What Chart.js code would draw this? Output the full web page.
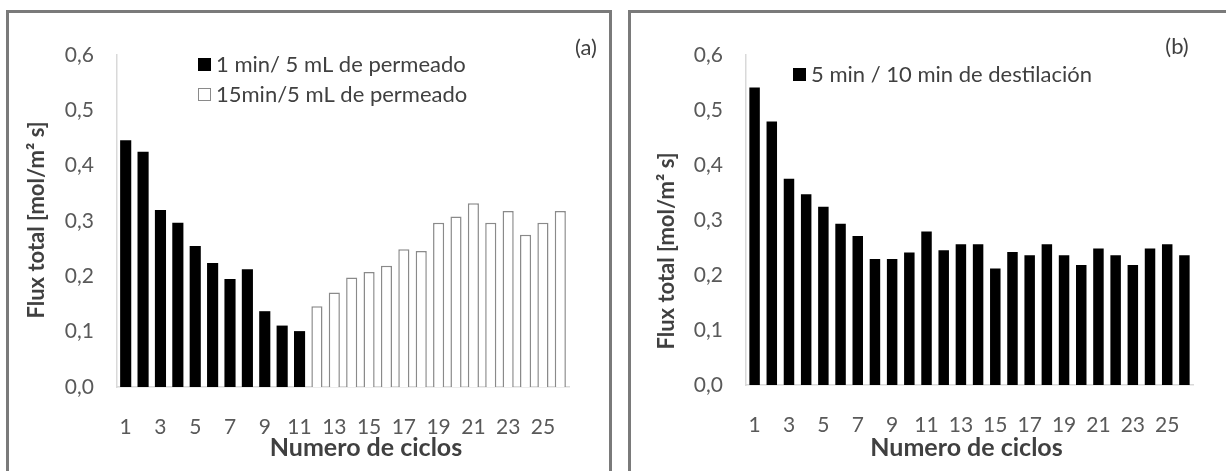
<!DOCTYPE html>
<html><head><meta charset="utf-8">
<script src="https://cdn.jsdelivr.net/npm/chart.js@4.4.0/dist/chart.umd.min.js"></script>
<style>
html,body{margin:0;padding:0;background:#fff;width:1226px;height:471px;overflow:hidden;position:relative}
.frame{position:absolute;border:3px solid #7a7a7a;box-sizing:border-box}
canvas{position:absolute}
</style></head><body>
<div class="frame" style="left:6px;top:10px;width:606px;height:500px"></div>
<div class="frame" style="left:628px;top:10px;width:620px;height:500px"></div>
<canvas id="ca" width="600" height="458" style="left:9px;top:13px;width:600px;height:458px"></canvas>
<canvas id="cb" width="595" height="458" style="left:631px;top:13px;width:595px;height:458px"></canvas>
<script>
// ---- data ----
const ciclos = ['1','2','3','4','5','6','7','8','9','10','11','12','13','14','15','16','17','18','19','20','21','22','23','24','25','26'];
const flux1min = [0.446,0.425,0.320,0.297,0.255,0.224,0.195,0.213,0.137,0.111,0.101,null,null,null,null,null,null,null,null,null,null,null,null,null,null,null];
const flux15min = [null,null,null,null,null,null,null,null,null,null,null,0.146,0.171,0.198,0.208,0.219,0.249,0.246,0.297,0.308,0.332,0.297,0.318,0.275,0.297,0.318];
const flux5min = [0.541,0.479,0.375,0.347,0.324,0.293,0.271,0.229,0.229,0.241,0.279,0.245,0.256,0.256,0.212,0.242,0.236,0.256,0.236,0.218,0.248,0.236,0.218,0.248,0.256,0.236];
const yTickLabels = ['0,0','0,1','0,2','0,3','0,4','0,5','0,6'];
const legendA = ['1 min/ 5 mL de permeado','15min/5 mL de permeado'];
const legendB = ['5 min / 10 min de destilación'];
const yTitle = 'Flux total [mol/m² s]';
const xTitle = 'Numero de ciclos';

const FONT = 'Lato, "Open Sans", sans-serif';
const TICK_COLOR = '#595959';
const TITLE_COLOR = '#404040';

const decor = {
  id: 'decor',
  afterDraw(chart, args, o) {
    const ctx = chart.ctx, ca = chart.chartArea;
    ctx.save();
    ctx.fillStyle = TITLE_COLOR;
    ctx.textAlign = 'center';
    ctx.textBaseline = 'middle';
    // x axis title
    ctx.font = 'bold 25px ' + FONT;
    ctx.fillText(o.xTitle, (ca.left + ca.right) / 2 + o.xTitleDx, o.xTitleY);
    // y axis title (rotated)
    ctx.save();
    ctx.translate(o.yTitleX, o.yTitleY);
    ctx.rotate(-Math.PI / 2);
    ctx.font = 'bold 22px ' + FONT;
    ctx.fillText(o.yTitle, 0, 0);
    ctx.restore();
    // panel tag
    ctx.font = '22px ' + FONT;
    ctx.fillText(o.tag, o.tagX, o.tagY);
    // legend
    ctx.textAlign = 'left';
    ctx.font = '22px ' + FONT;
    chart.data.datasets.forEach((ds, i) => {
      const y = o.legY + i * o.legDy;
      ctx.fillStyle = ds.backgroundColor;
      ctx.fillRect(o.legX, y - 6, 13, 13);
      if (ds.borderWidth) {
        ctx.strokeStyle = ds.borderColor;
        ctx.lineWidth = 1;
        ctx.strokeRect(o.legX + 0.5, y - 5.5, 12, 12);
      }
      ctx.fillStyle = TITLE_COLOR;
      ctx.fillText(ds.label, o.legX + 18, y + 1);
    });
    ctx.restore();
  }
};

function makeOptions(p) {
  return {
    responsive: false,
    animation: false,
    layout: { padding: { left: 0, top: p.top, right: p.right, bottom: 0 } },
    plugins: { legend: { display: false }, tooltip: { enabled: false }, decor: p.decor },
    scales: {
      x: {
        grid: { display: false, drawTicks: false },
        border: { display: true, color: '#d9d9d9', width: 1.5 },
        ticks: {
          autoSkip: false, maxRotation: 0, minRotation: 0, padding: p.xPad,
          color: TICK_COLOR, font: { family: FONT, size: 21 },
          callback: (v, i) => (i % 2 === 0 ? ciclos[i] : null)
        },
        afterFit: s => { s.height = p.xH; }
      },
      y: {
        min: 0, max: 0.6,
        grid: { display: false, drawTicks: false },
        border: { display: true, color: '#d9d9d9', width: 1.5 },
        ticks: {
          stepSize: 0.1, padding: 23, color: TICK_COLOR, font: { family: FONT, size: 21 },
          callback: v => yTickLabels[Math.round(v * 10)]
        },
        afterFit: s => { s.width = p.yW; }
      }
    }
  };
}

new Chart(document.getElementById('ca'), {
  type: 'bar',
  data: {
    labels: ciclos,
    datasets: [
      { label: legendA[0], data: flux1min, backgroundColor: '#000000', borderWidth: 0,
        grouped: false, categoryPercentage: 1, barPercentage: 0.64 },
      { label: legendA[1], data: flux15min, backgroundColor: '#ffffff', borderColor: '#8a8a8a', borderWidth: 1.5,
        grouped: false, categoryPercentage: 1, barPercentage: 0.64 }
    ]
  },
  options: makeOptions({ top: 42, right: 40, xH: 84, yW: 108, xPad: 28,
    decor: { xTitle: xTitle, xTitleDx: 23, xTitleY: 435, yTitle: yTitle, yTitleX: 28, yTitleY: 207,
             tag: '(a)', tagX: 577, tagY: 35, legX: 189, legY: 51, legDy: 30 } }),
  plugins: [decor]
});

new Chart(document.getElementById('cb'), {
  type: 'bar',
  data: {
    labels: ciclos,
    datasets: [
      { label: legendB[0], data: flux5min, backgroundColor: '#000000', borderWidth: 0,
        grouped: false, categoryPercentage: 1, barPercentage: 0.61 }
    ]
  },
  options: makeOptions({ top: 42, right: 33, xH: 86, yW: 115, xPad: 28,
    decor: { xTitle: xTitle, xTitleDx: -3, xTitleY: 435, yTitle: yTitle, yTitleX: 36, yTitleY: 238,
             tag: '(b)', tagX: 546, tagY: 34, legX: 162, legY: 61, legDy: 30 } }),
  plugins: [decor]
});
</script>
</body></html>
